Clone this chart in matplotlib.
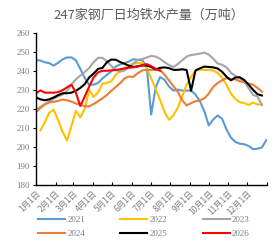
import numpy as np
import matplotlib
matplotlib.use("Agg")
import matplotlib.pyplot as plt

# weekly values, first point at Jan 1, one per 7 days
y2021 = [245.7, 245.4, 244.5, 244.0, 242.7, 244.2, 246.0, 247.0, 247.0, 245.5,
         241.0, 236.2, 232.7, 232.7, 233.6, 236.0, 237.9, 239.7, 242.3, 243.3,
         244.0, 244.9, 246.1, 245.7, 245.6, 242.0, 217.0, 231.0, 236.7, 235.3,
         231.8, 229.6, 230.1, 229.6, 229.6, 229.6, 227.5, 224.0, 218.8, 211.3,
         214.4, 216.5, 214.8, 209.2, 204.9, 202.6, 201.7, 201.4, 200.5, 198.8,
         199.1, 199.7, 203.6]
y2022 = [np.nan, 208.7, 213.0, 218.0, 219.5, 214.0, 208.0, 203.3, 211.0, 219.0,
         215.5, 220.0, 230.0, 226.3, 228.5, 233.3, 233.6, 234.5, 237.8, 240.0,
         241.5, 242.9, 243.8, 244.1, 244.3, 241.5, 236.0, 230.5, 224.7, 218.5,
         214.3, 216.5, 220.5, 226.5, 232.8, 236.8, 240.0, 240.5, 240.5, 240.4,
         240.2, 238.9, 236.3, 232.5, 228.0, 225.2, 223.5, 223.1, 222.0, 223.3,
         222.3, 222.3]
y2023 = [219.5, 221.0, 222.5, 224.0, 225.3, 226.5, 227.5, 229.5, 232.8, 235.5,
         237.5, 239.3, 241.5, 244.5, 246.8, 246.8, 245.0, 242.5, 240.5, 239.5,
         240.2, 241.8, 243.8, 245.8, 246.2, 247.0, 247.8, 247.5, 246.3, 244.5,
         243.0, 242.0, 243.5, 245.5, 247.5, 248.3, 248.6, 249.0, 249.6, 248.5,
         246.4, 243.8, 243.2, 241.8, 239.0, 237.3, 236.0, 234.5, 230.8, 227.3,
         226.5, 222.0]
y2024 = [218.3, 220.5, 222.3, 223.4, 223.7, 224.2, 224.9, 224.5, 223.8, 222.8,
         222.2, 221.4, 221.3, 222.5, 224.0, 225.5, 227.3, 229.5, 231.5, 233.5,
         236.0, 237.0, 236.8, 238.8, 240.2, 240.5, 240.5, 240.5, 240.4, 238.0,
         235.0, 232.0, 229.0, 224.5, 221.8, 223.0, 224.0, 224.5, 225.5, 228.0,
         231.5, 233.6, 235.0, 236.2, 235.5, 235.5, 234.5, 234.0, 233.3, 232.7,
         231.0, 229.0]
y2025 = [226.0, 225.0, 224.5, 225.0, 226.0, 227.2, 228.2, 228.2, 228.5, 229.5,
         231.0, 233.0, 236.5, 238.5, 241.0, 241.5, 244.5, 245.9, 245.8, 244.6,
         243.7, 242.6, 242.0, 242.4, 242.8, 242.8, 242.0, 240.8, 241.5, 241.8,
         241.4, 240.5, 240.5, 240.8, 240.4, 229.5, 240.2, 241.3, 242.2, 242.0,
         241.8, 241.2, 239.5, 236.9, 235.0, 236.5, 236.6, 235.2, 232.7, 230.0,
         227.7, 227.0]
y2026 = [228.2, 229.7, 228.5, 228.5, 228.5, 228.8, 229.8, 231.3, 232.7, 228.5,
         221.5, 226.5, 231.7, 236.5, 239.2, 240.0, 240.0, 240.2, 240.4, 240.8,
         241.3, 241.6, 241.8, 242.2, 243.0, 243.5, 242.5, 241.0, 240.0]

years = ["2021", "2022", "2023", "2024", "2025", "2026"]
series = [y2021, y2022, y2023, y2024, y2025, y2026]
colors = ["#5B9BD5", "#FFC000", "#A5A5A5", "#ED7D31", "#000000", "#FF0000"]

month_days = [0, 31, 59, 90, 120, 151, 181, 212, 243, 273, 304, 334, 365]
month_labels = [f"{m}月1日" for m in range(1, 13)]

CJK = ["Noto Sans CJK SC", "DejaVu Sans"]
GREY = "#7f7f7f"

fig = plt.figure(figsize=(2.78, 2.46), dpi=100)
ax = fig.add_axes([0.1295, 0.248, 0.8309, 0.619])

lines = {}
for name, vals, c in zip(years, series, colors):
    x = np.arange(len(vals)) * 7
    ln, = ax.plot(x, vals, color=c, lw=1.5, label=name, solid_joinstyle="round")
    lines[name] = ln

ax.set_xlim(0, 365)
ax.set_ylim(180, 260)
ax.set_yticks(range(180, 261, 10))
ax.set_xticks(month_days)
ax.set_xticklabels(month_labels + [""], family=CJK, fontsize=6.0, color=GREY,
                   rotation=45, ha="right", rotation_mode="anchor")
for t in ax.get_yticklabels():
    t.set_family("Liberation Serif")
    t.set_fontsize(6.5)
    t.set_color(GREY)

for s in ("top", "right"):
    ax.spines[s].set_visible(False)
for s in ("left", "bottom"):
    ax.spines[s].set_color("black")
    ax.spines[s].set_linewidth(1.0)
ax.tick_params(axis="y", direction="out", length=2.5, width=0.8, pad=2)
ax.tick_params(axis="x", direction="in", length=2.5, width=0.8, pad=2.5)

fig.text(0.536, 0.94, "247家钢厂日均铁水产量（万吨）", ha="center", va="center",
         family=CJK, fontsize=9.4, color="#595959")

order = ["2021", "2024", "2022", "2025", "2023", "2026"]
leg = fig.legend([lines[k] for k in order], order, ncol=3, loc="upper left",
                 bbox_to_anchor=(38 / 278, 1 - 216 / 246), frameon=False,
                 borderpad=0, borderaxespad=0, handlelength=3.0,
                 handletextpad=0.25, columnspacing=3.9, labelspacing=0.6,
                 prop={"family": "Liberation Serif", "size": 6.5})
for t in leg.get_texts():
    t.set_color(GREY)

fig.savefig("out.png", dpi=100)
